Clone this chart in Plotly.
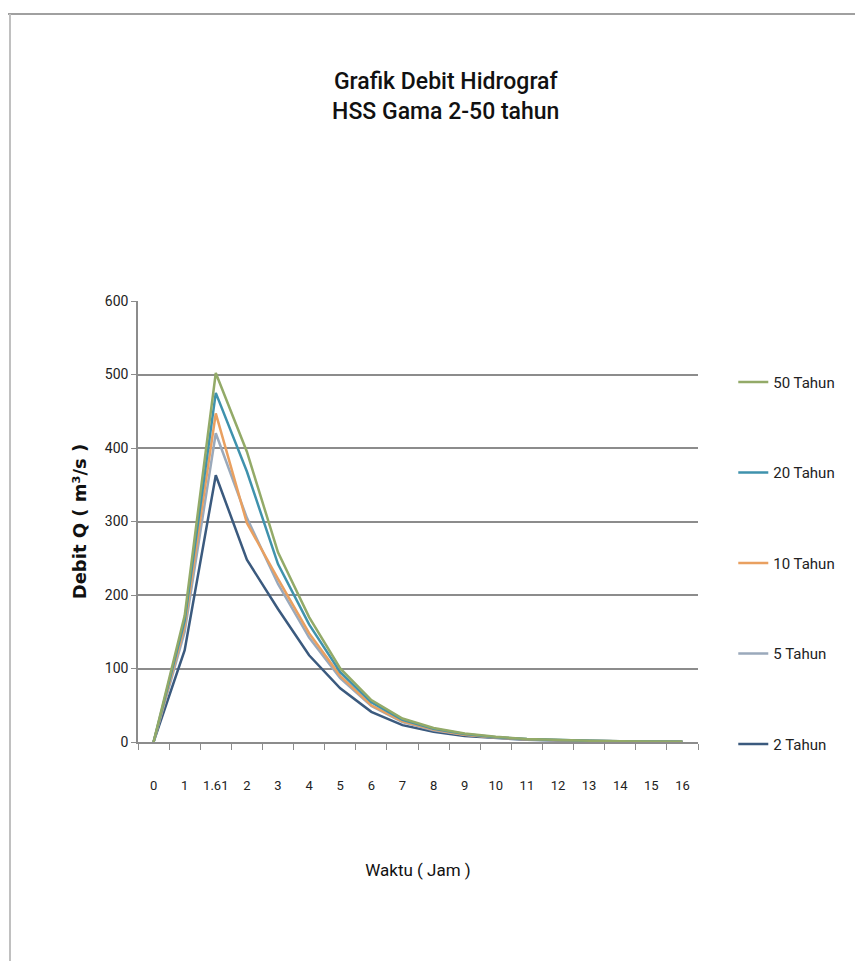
import plotly.graph_objects as go

waktu = ["0", "1", "1.61", "2", "3", "4", "5", "6", "7", "8", "9", "10", "11", "12", "13", "14", "15", "16"]
q_2th = [0, 125, 363, 248, 181, 118, 73, 41, 23, 14, 8, 5, 3, 2, 1.2, 0.8, 0.5, 0.3]
q_5th = [0, 150, 420, 305, 215, 142, 87, 49, 27, 16, 10, 6, 3.5, 2.2, 1.4, 0.9, 0.6, 0.4]
q_10th = [0, 158, 447, 298, 222, 148, 90, 50, 28, 17, 10, 6, 3.7, 2.3, 1.5, 0.9, 0.6, 0.4]
q_20th = [0, 165, 475, 368, 242, 160, 95, 54, 30, 18, 11, 6.5, 4, 2.5, 1.6, 1, 0.6, 0.4]
q_50th = [0, 172, 502, 395, 258, 170, 100, 57, 32, 19, 11.5, 7, 4.2, 2.6, 1.7, 1.1, 0.7, 0.4]

series = [
    ("2 Tahun", q_2th, "#3b5a7e", 5),
    ("5 Tahun", q_5th, "#9aa9bb", 4),
    ("10 Tahun", q_10th, "#e9a060", 3),
    ("20 Tahun", q_20th, "#3f92ad", 2),
    ("50 Tahun", q_50th, "#93aa68", 1),
]

font_main = "Roboto, Liberation Sans, sans-serif"

fig = go.Figure()
for name, vals, col, rank in series:
    fig.add_trace(go.Scatter(
        x=waktu, y=vals, mode="lines", name=name, legendgroup=name,
        legendrank=rank,
        line=dict(color=col, width=2.5),
    ))

# page has an 8px body margin, so the figure is offset by 8px
fig.update_layout(
    width=855, height=953,
    paper_bgcolor="white", plot_bgcolor="white",
    margin=dict(l=130, r=165, t=293, b=219),
    title=dict(
        text="Grafik Debit Hidrograf<br>HSS Gama 2-50 tahun",
        x=0.512, xanchor="center", y=0.915, yanchor="top",
        font=dict(family=font_main, size=23, color="#111", weight=500),
    ),
    showlegend=True,
    legend=dict(
        x=1.063, xanchor="left", y=0.853, yanchor="top",
        traceorder="grouped", tracegroupgap=68,
        font=dict(family=font_main, size=15, color="#222"),
        bgcolor="rgba(0,0,0,0)",
    ),
    xaxis=dict(
        type="category", categoryorder="array", categoryarray=waktu,
        range=[-0.5, len(waktu) - 0.5],
        showgrid=False, showline=True, linecolor="#8c8c8c", linewidth=1.5,
        ticks="outside", tickson="boundaries", ticklen=6, tickcolor="#8c8c8c",
        ticklabelstandoff=31, tickangle=0, automargin=False,
        tickfont=dict(family=font_main, size=13, color="#222"),
        title=dict(text="Waktu ( Jam )", font=dict(family=font_main, size=17, color="#111"), standoff=72),
        zeroline=False,
    ),
    yaxis=dict(
        range=[0, 600], dtick=100, tick0=0, automargin=False,
        showgrid=True, gridcolor="#8c8c8c", gridwidth=1.5,
        showline=True, linecolor="#8c8c8c", linewidth=1.5,
        ticks="outside", ticklen=5, tickcolor="#8c8c8c",
        tickfont=dict(family=font_main, size=14, color="#222"),
        title=dict(text="Debit Q ( m³/s )", font=dict(family="DejaVu Sans", size=18, color="#111", weight="bold"), standoff=14),
        zeroline=False,
    ),
)

# outer chart border (top and left edges visible), page pixel coordinates
def px_x(px):
    return (px - 137) / 560.0

def px_y(py):
    return (742 - py) / 441.0

fig.add_shape(type="line", xref="paper", yref="paper",
              x0=px_x(5), x1=px_x(870), y0=px_y(14), y1=px_y(14),
              line=dict(color="#a0a0a0", width=2))
fig.add_shape(type="line", xref="paper", yref="paper",
              x0=px_x(9), x1=px_x(9), y0=px_y(14), y1=px_y(970),
              line=dict(color="#c0c0c0", width=2))

fig.write_html("out.html")
